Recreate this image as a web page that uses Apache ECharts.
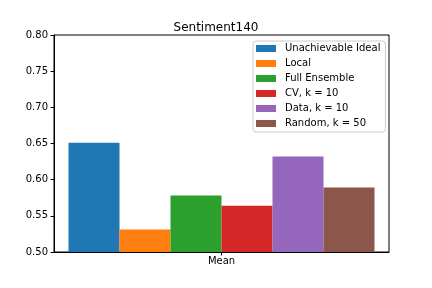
<!DOCTYPE html>
<html><head><meta charset="utf-8">
<script src="https://cdn.jsdelivr.net/npm/echarts@6/dist/echarts.min.js"></script>
<style>html,body{margin:0;padding:0;background:#fff}#c{width:432px;height:288px}</style>
</head><body><div id="c"></div>
<script>
const categories = ['Mean'];
const seriesNames = ['Unachievable Ideal','Local','Full Ensemble','CV, k = 10','Data, k = 10','Random, k = 50'];
const seriesValues = [[0.651],[0.531],[0.578],[0.564],[0.632],[0.589]];
const colors = ['#1f77b4','#ff7f0e','#2ca02c','#d62728','#9467bd','#8c564b'];
const yTicks = {min:0.50, max:0.80, interval:0.05};

const font = 'DejaVu Sans';
const chart = echarts.init(document.getElementById('c'), null, {renderer:'canvas'});
chart.setOption({
  animation:false,
  backgroundColor:'#fff',
  title:{text:'Sentiment140', left:'center', top:17, textStyle:{fontFamily:font, fontSize:12, fontWeight:'normal', color:'#000'}},
  grid:{left:54, top:35, width:335, height:217, show:true, borderColor:'#000', borderWidth:1, backgroundColor:'transparent'},
  legend:{
    orient:'vertical', left:253, top:41, itemWidth:20, itemHeight:7, itemGap:2,
    padding:[1,5,2,3], backgroundColor:'#fff', borderColor:'#cccccc', borderWidth:1, borderRadius:3,
    icon:'rect',
    textStyle:{fontFamily:font, fontSize:10, color:'#000', lineHeight:13, padding:[0,0,0,4]},
    data:seriesNames
  },
  xAxis:{type:'category', data:categories,
    axisLine:{show:true, lineStyle:{color:'#000', width:1}},
    axisTick:{show:true, alignWithLabel:true, length:3.5, lineStyle:{color:'#000'}},
    axisLabel:{fontFamily:font, fontSize:10, color:'#000', margin:4}
  },
  yAxis:{type:'value', min:yTicks.min, max:yTicks.max, interval:yTicks.interval,
    axisLine:{show:true, lineStyle:{color:'#000', width:1}},
    axisTick:{show:true, length:3.5, lineStyle:{color:'#000'}},
    splitLine:{show:false},
    axisLabel:{fontFamily:font, fontSize:10, color:'#000', margin:6, formatter:v=>v.toFixed(2)}
  },
  series: seriesNames.map((n,i)=>({
    name:n, type:'bar', data:seriesValues[i], barWidth:51, barGap:'0%',
    itemStyle:{color:colors[i]}
  }))
});
</script></body></html>
